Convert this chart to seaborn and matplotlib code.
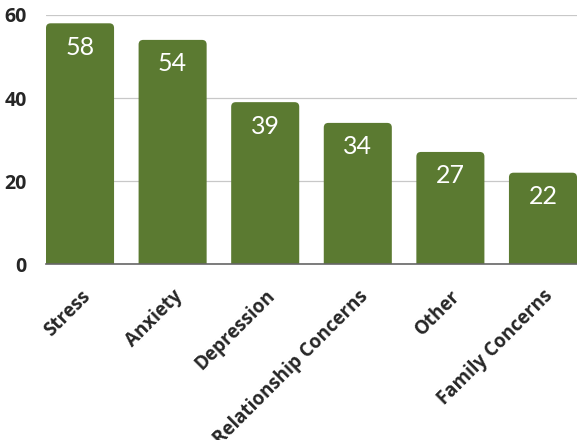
import matplotlib
matplotlib.use("Agg")
import matplotlib.pyplot as plt
import seaborn as sns
import pandas as pd
from matplotlib.patches import FancyBboxPatch

categories = ["Stress", "Anxiety", "Depression", "Relationship Concerns", "Other", "Family Concerns"]
values = [58, 54, 39, 34, 27, 22]
yticks = [0, 20, 40, 60]

df = pd.DataFrame({"category": categories, "value": values})

sns.set_theme(style="white")
plt.rcParams["font.family"] = ["Open Sans", "DejaVu Sans"]

color = "#5b7a31"
fig = plt.figure(figsize=(5.77, 4.40), dpi=100)
ax = fig.add_axes([46/577, 1 - 264/440, 1 - 46/577, (264 - 15)/440])

sns.barplot(data=df, x="category", y="value", color=color, width=0.735,
            saturation=1, ax=ax, zorder=3)

ax.set_xlim(-0.3675, 5.3675)
ax.set_ylim(0, 60)

# rounded tops
px_x = ax.bbox.width / (ax.get_xlim()[1] - ax.get_xlim()[0])
px_y = ax.bbox.height / (ax.get_ylim()[1] - ax.get_ylim()[0])
aspect = px_x / px_y
for p in list(ax.patches):
    x0, y0 = p.get_x(), p.get_y()
    w, h = p.get_width(), p.get_height()
    p.set_visible(False)
    fb = FancyBboxPatch((x0, -3), w, h + 3,
                        boxstyle="round,pad=0,rounding_size=0.05",
                        mutation_aspect=aspect, facecolor=color,
                        edgecolor="none", zorder=3, clip_on=True)
    ax.add_patch(fb)
    ax.annotate(f"{int(h)}", (x0 + w / 2, h), xytext=(0, -24),
                textcoords="offset pixels", ha="center", va="center",
                color="white", fontsize=18, family=["Lato", "DejaVu Sans"],
                zorder=5)

ax.set_yticks(yticks)
ax.set_yticklabels([str(t) for t in yticks], fontsize=14, fontweight="bold")
ax.yaxis.grid(True, color="#c8c8c8", linewidth=0.9, zorder=0)
ax.set_xticks(range(len(categories)))
ax.set_xticklabels(categories, rotation=45, ha="right", rotation_mode="anchor",
                   fontsize=13.5, fontweight="bold")
ax.tick_params(axis="x", pad=16, length=0)
ax.tick_params(axis="y", pad=14, length=0)
for s in ["top", "right", "left"]:
    ax.spines[s].set_visible(False)
ax.spines["bottom"].set_color("#666666")
ax.spines["bottom"].set_linewidth(1.2)
ax.spines["bottom"].set_zorder(4)
ax.set_xlabel("")
ax.set_ylabel("")

fig.savefig("out.png", dpi=100)
